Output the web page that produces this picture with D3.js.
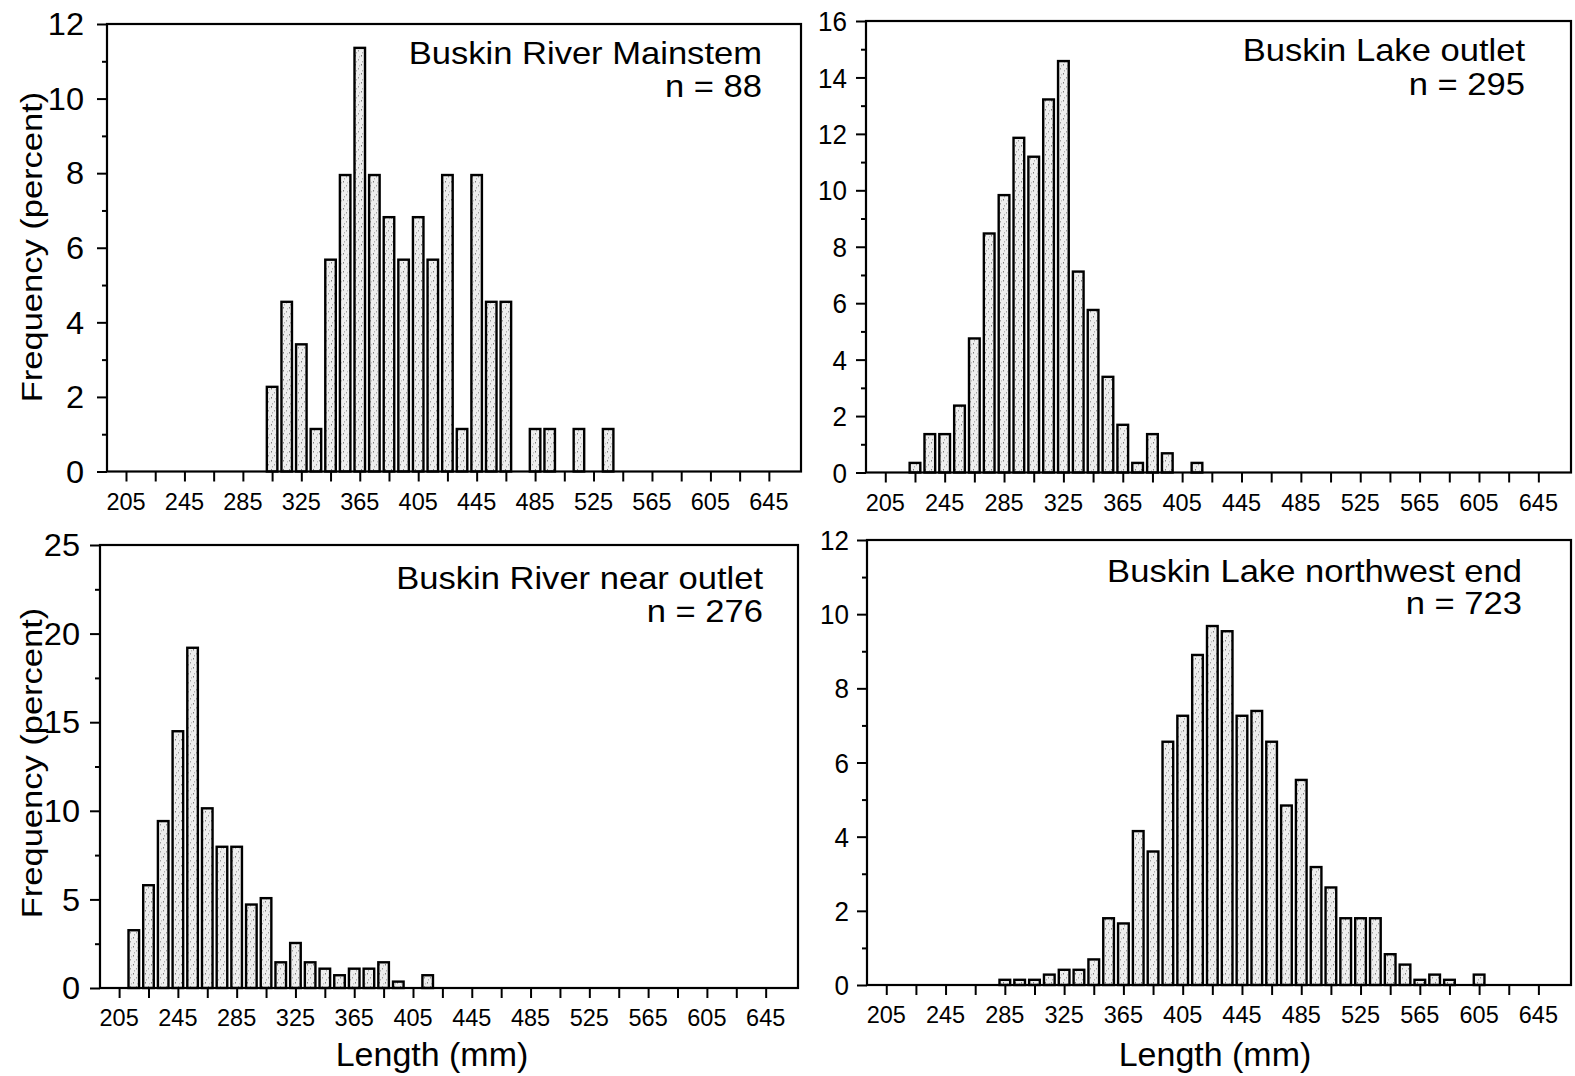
<!DOCTYPE html>
<html>
<head>
<meta charset="utf-8">
<script src="https://cdn.jsdelivr.net/npm/d3@7"></script>
<style>
  html, body { margin: 0; padding: 0; background: #fff; }
  svg { display: block; }
  text { font-family: "Liberation Sans", Arial, Helvetica, sans-serif; fill: #000; }
</style>
</head>
<body>
<svg id="chart" width="1575" height="1076"></svg>
<script>
// Length-frequency of fish sampled at four Buskin sites (percent per 10-mm bin)
const panelTitles = ["Buskin River Mainstem", "Buskin Lake outlet", "Buskin River near outlet", "Buskin Lake northwest end"];
const sampleSizes = [88, 295, 276, 723];
// centre (mm) of the first listed bin in each series; bins are 10 mm apart
const firstBins = [305, 225, 215, 285];

const mainstemPct = [2.27, 4.55, 3.41, 1.14, 5.68, 7.95, 11.36, 7.95, 6.82, 5.68, 6.82, 5.68,
  7.95, 1.14, 7.95, 4.55, 4.55, 0, 1.14, 1.14, 0, 1.14, 0, 1.14];
const lakeOutletPct = [0.34, 1.36, 1.36, 2.37, 4.75, 8.47, 9.83, 11.86, 11.19, 13.22, 14.58,
  7.12, 5.76, 3.39, 1.69, 0.34, 1.36, 0.68, 0, 0.34];
const nearOutletPct = [3.26, 5.80, 9.42, 14.49, 19.20, 10.14, 7.97, 7.97, 4.71, 5.07, 1.45,
  2.54, 1.45, 1.09, 0.72, 1.09, 1.09, 1.45, 0.36, 0, 0.72];
const northwestPct = [0.14, 0.14, 0.14, 0.28, 0.41, 0.41, 0.69, 1.80, 1.66, 4.15, 3.60, 6.56,
  7.26, 8.90, 9.68, 9.54, 7.26, 7.39, 6.56, 4.84, 5.53, 3.18, 2.63, 1.80, 1.80, 1.80, 0.83,
  0.55, 0.14, 0.28, 0.14, 0, 0.28];
const seriesPct = [mainstemPct, lakeOutletPct, nearOutletPct, northwestPct];

const xTickValues = d3.range(205, 646, 20);
const xLabelValues = d3.range(205, 646, 40);
const yMaxima = [12, 16, 25, 12];
const yMajorSteps = [2, 2, 5, 2];
const yMinorSteps = [1, 1, 2.5, 1];
const xAxisTitle = "Length (mm)";
const yAxisTitle = "Frequency (percent)";

// ---- layout ----
const xDomain = [192, 667];
const binWidth = 10;
const barFraction = 0.72;
const panels = [
  { l: 107, r: 801, t: 24, b: 471.5, titleRight: 762, titleBase: [64, 97],
    yFont: 31, ySx: 1.05, yGap: 23, yTitleY: 247 },
  { l: 866, r: 1571, t: 21, b: 472.5, titleRight: 1525, titleBase: [61, 95],
    yFont: 28, ySx: 0.93, yGap: 19 },
  { l: 100, r: 798, t: 545, b: 988, titleRight: 763, titleBase: [589, 622],
    yFont: 31, ySx: 1.05, yGap: 20, yTitleY: 763, xTitleX: 432 },
  { l: 867, r: 1571, t: 540, b: 985, titleRight: 1522, titleBase: [582, 614],
    yFont: 28, ySx: 0.93, yGap: 18, xTitleX: 1215 }
];

const svg = d3.select("#chart");

// stippled grey fill used for the bars
const defs = svg.append("defs");
const pat = defs.append("pattern").attr("id", "stipple")
  .attr("patternUnits", "userSpaceOnUse").attr("width", 6).attr("height", 9);
pat.append("rect").attr("width", 6).attr("height", 9).attr("fill", "#eeeeee");
[[1, 1, "#7d7d7d"], [4, 5, "#9a9a9a"], [2, 7, "#b0b0b0"], [5, 2, "#c4c4c4"]].forEach(([x, y, c]) => {
  pat.append("rect").attr("x", x).attr("y", y).attr("width", 1).attr("height", 1.5).attr("fill", c);
});

function label(sel, x, y, str, size, sx = 1, anchor = "start", rotate = 0, dy = null) {
  const t = sel.append("text")
    .attr("transform", `translate(${x},${y})${rotate ? ` rotate(${rotate})` : ""} scale(${sx},1)`)
    .attr("font-size", size)
    .attr("text-anchor", anchor)
    .text(str);
  if (dy) t.attr("dy", dy);
  return t;
}

panels.forEach((p, i) => {
  const g = svg.append("g");
  const x = d3.scaleLinear().domain(xDomain).range([p.l, p.r]);
  const y = d3.scaleLinear().domain([0, yMaxima[i]]).range([p.b, p.t]);

  // bars
  const bins = seriesPct[i].map((v, k) => ({ mm: firstBins[i] + k * binWidth, v }))
    .filter(d => d.v > 0);
  const half = binWidth * barFraction / 2;
  g.append("g").selectAll("rect").data(bins).join("rect")
    .attr("x", d => x(d.mm - half))
    .attr("width", d => x(d.mm + half) - x(d.mm - half))
    .attr("y", d => y(d.v))
    .attr("height", d => y(0) - y(d.v))
    .attr("fill", "url(#stipple)")
    .attr("stroke", "#000")
    .attr("stroke-width", 2.4);

  // x ticks
  const xAxis = g.append("g").attr("transform", `translate(0,${p.b})`)
    .call(d3.axisBottom(x).tickValues(xTickValues).tickSize(10).tickFormat(""));
  xAxis.select(".domain").remove();
  xAxis.selectAll(".tick line").attr("stroke", "#000").attr("stroke-width", 2);

  xLabelValues.forEach(v => label(g, x(v), p.b + 38, String(v), 23.5, 1, "middle"));

  // y ticks: major with labels, minor without
  const majors = d3.range(0, yMaxima[i] + 0.001, yMajorSteps[i]);
  const minors = d3.range(0, yMaxima[i] + 0.001, yMinorSteps[i]).filter(v => !majors.includes(v));
  const yMajor = g.append("g").attr("transform", `translate(${p.l},0)`)
    .call(d3.axisLeft(y).tickValues(majors).tickSize(10).tickFormat(""));
  const yMinor = g.append("g").attr("transform", `translate(${p.l},0)`)
    .call(d3.axisLeft(y).tickValues(minors).tickSize(5).tickFormat(""));
  [yMajor, yMinor].forEach(a => {
    a.select(".domain").remove();
    a.selectAll(".tick line").attr("stroke", "#000").attr("stroke-width", 2);
  });
  majors.forEach(v => label(g, p.l - p.yGap, y(v), String(v), p.yFont, p.ySx, "end", 0, "0.36em"));

  // frame
  g.append("rect")
    .attr("x", p.l).attr("y", p.t)
    .attr("width", p.r - p.l).attr("height", p.b - p.t)
    .attr("fill", "none").attr("stroke", "#000").attr("stroke-width", 2.2);

  // site name and sample size
  label(g, p.titleRight, p.titleBase[0], panelTitles[i], 32, 1.08, "end");
  label(g, p.titleRight, p.titleBase[1], `n = ${sampleSizes[i]}`, 32, 1.08, "end");

  // axis titles
  if (p.yTitleY) label(g, 42, p.yTitleY, yAxisTitle, 30, 1.15, "middle", -90);
  if (p.xTitleX) label(g, p.xTitleX, 1066, xAxisTitle, 33, 1.03, "middle");
});
</script>
</body>
</html>
